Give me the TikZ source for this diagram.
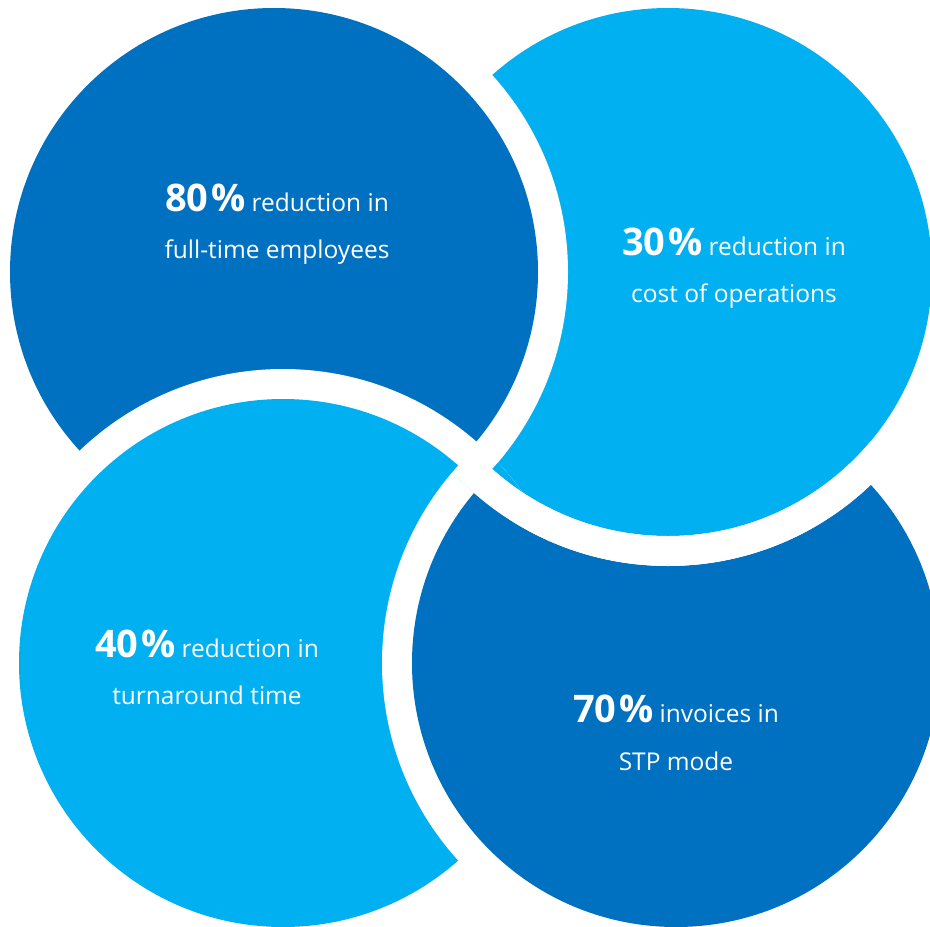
\documentclass[tikz,border=0pt]{standalone}
\usepackage{fontspec}
\setmainfont{Open Sans}
\definecolor{dkblue}{RGB}{0,112,192}
\definecolor{ltblue}{RGB}{0,176,240}
\newcommand{\bignum}[1]{{\fontsize{38}{40}\selectfont\bfseries #1\kern2.5pt\%}}
\begin{document}
\begin{tikzpicture}[x=1pt,y=-1pt,
  txt/.style={text=white,font=\fontsize{24.5}{28}\selectfont,anchor=base,inner sep=0pt},
  halo/.style={fill=white},
  dk/.style={fill=dkblue},
  lt/.style={fill=ltblue}]
\useasboundingbox (0,0) rectangle (930,927);
\clip (0,0) rectangle (930,927);
% coordinates of circle centres
\coordinate (cTL) at (274,272);
\coordinate (cTR) at (668,272);
\coordinate (cBL) at (283,663);
\coordinate (cBR) at (676,663);
% top right
\fill[halo] (cTR) circle[radius=294pt];
\fill[lt] (cTR) circle[radius=264pt];
% top left
\fill[halo] (cTL) circle[radius=294pt];
\fill[dk] (cTL) circle[radius=264pt];
% bottom left
\fill[halo] (cBL) circle[radius=294pt];
\fill[lt] (cBL) circle[radius=264pt];
% top right restored where the bottom-left gap reached it (outside the top-left gap)
\begin{scope}[even odd rule]
  \clip (-10,-10) rectangle (940,940) (cTL) circle[radius=294pt];
  \clip (cBL) circle[radius=294pt];
  \fill[lt] (cTR) circle[radius=264pt];
\end{scope}
% bottom right, kept out of the top-right circle and its gap
\begin{scope}[even odd rule]
  \clip (-10,-10) rectangle (940,940) (cTR) circle[radius=294pt];
  \fill[halo] (cBR) circle[radius=294pt];
  \fill[dk] (cBR) circle[radius=264pt];
\end{scope}
% gap ring of the top-right circle, restored near the bottom-right circle
\begin{scope}
  \clip (cBR) circle[radius=294pt];
  \fill[halo, even odd rule] (cTR) circle[radius=294pt] (cTR) circle[radius=264pt];
\end{scope}
% texts
\node[txt] (t1a) at (277,211) {\bignum{80} reduction in};
\node[txt] (t1b) at (277,258) {full-time employees};
\node[txt] (t2a) at (734,255) {\bignum{30} reduction in};
\node[txt] (t2b) at (734,302) {cost of operations};
\node[txt] (t3a) at (207,657) {\bignum{40} reduction in};
\node[txt] (t3b) at (207,704) {turnaround time};
\node[txt] (t4a) at (676,722) {\bignum{70} invoices in};
\node[txt] (t4b) at (676,770) {STP mode};
\end{tikzpicture}
\end{document}
